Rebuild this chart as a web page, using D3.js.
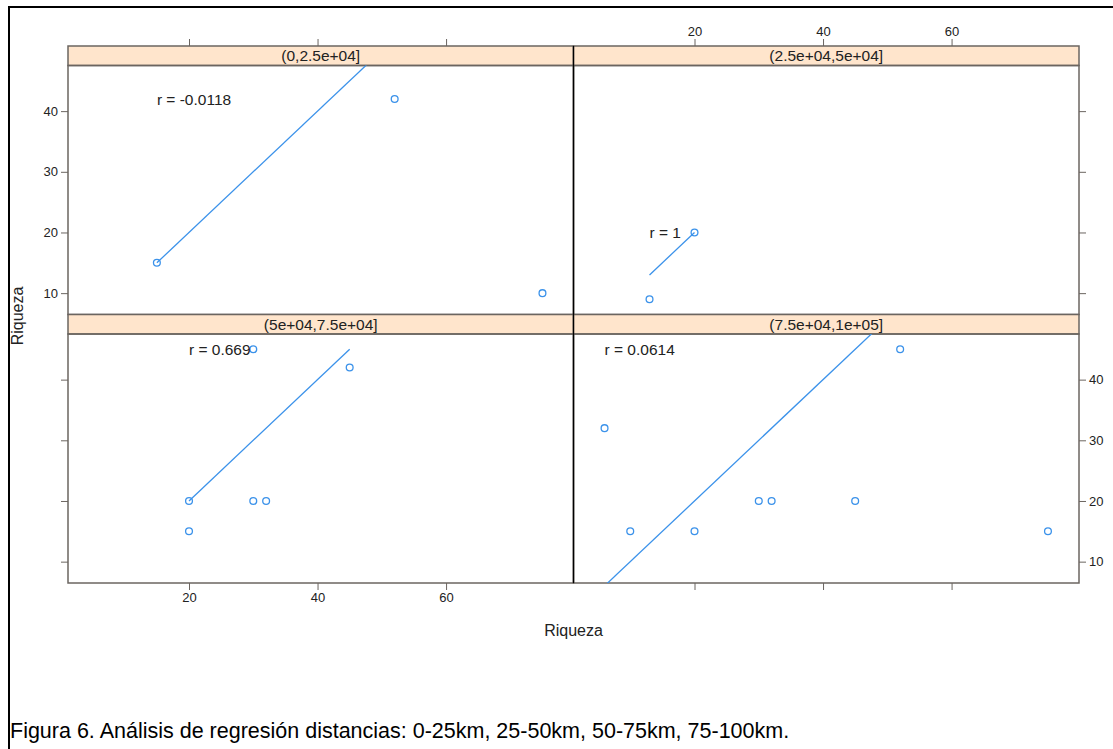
<!DOCTYPE html>
<html>
<head>
<meta charset="utf-8">
<script src="https://cdn.jsdelivr.net/npm/d3@7"></script>
<style>
  body { margin: 0; background: #fff; }
  svg { display: block; font-family: "Liberation Sans", Arial, sans-serif; }
  .tick line { stroke: #6b6560; }
  .tick text { fill: #222; font-size: 13px; }
</style>
</head>
<body>
<svg width="1113" height="749"></svg>
<script>
"use strict"

// strip labels and r values per panel
const panelLabels = ["(0,2.5e+04]", "(2.5e+04,5e+04]", "(5e+04,7.5e+04]", "(7.5e+04,1e+05]"]
const rValues = ["-0.0118", "1", "0.669", "0.0614"]

// points (Riqueza vs Riqueza)
const p1x = [15, 52, 75],  p1y = [15, 42, 10]
const p2x = [13, 20],      p2y = [9, 20]
const p3x = [20, 20, 30, 32, 45, 30], p3y = [20, 15, 20, 20, 42, 45]
const p4x = [6, 10, 20, 30, 32, 45, 52, 75], p4y = [32, 15, 15, 20, 20, 20, 45, 15]

const xTicks = [20, 40, 60]
const yTicks = [10, 20, 30, 40]

const caption = "Figura 6. Análisis de regresión distancias: 0-25km, 25-50km, 50-75km, 75-100km."

let svg = d3.select("svg")

const padL = 68, padR = 1079, padT = 46
const colW = (padR - padL) / 2
const stripH = 19.5, plotH = 249
const blue = "#3b92ea", border = "#6b6560"

let xs = [p1x, p2x, p3x, p4x], ys = [p1y, p2y, p3y, p4y]
let allX = d3.merge(xs), allY = d3.merge(ys)

// lattice style 7% padding
function padded(ext) {
  let d = (ext[1] - ext[0]) * 0.07
  return [ext[0] - d, ext[1] + d]
}

let xDom = padded(d3.extent(allX)), yDom = padded(d3.extent(allY))

// outer frame of the figure
svg.append("path")
  .attr("d", "M9,760V7H1120")
  .attr("fill", "none")
  .attr("stroke", "#000")
  .attr("stroke-width", 2)

let panels = panelLabels.map((lab, i) => {
  let col = i % 2, row = Math.floor(i / 2)
  let x0 = padL + col * colW
  let sy = padT + row * (stripH + plotH)
  return {lab, i, col, row, x0, sy, py: sy + stripH, px: xs[i], pyv: ys[i], r: rValues[i]}
})

panels.forEach(p => {
  let x = d3.scaleLinear().domain(xDom).range([p.x0, p.x0 + colW])
  let y = d3.scaleLinear().domain(yDom).range([p.py + plotH, p.py])
  let g = svg.append("g")

  g.append("clipPath").attr("id", "clip" + p.i)
    .append("rect")
      .attr("x", p.x0).attr("y", p.py)
      .attr("width", colW).attr("height", plotH)

  // strip
  g.append("rect")
    .attr("x", p.x0).attr("y", p.sy)
    .attr("width", colW).attr("height", stripH)
    .attr("fill", "#ffe5cc")
    .attr("stroke", border).attr("stroke-width", 1.5)
  g.append("text")
    .attr("x", p.x0 + colW / 2).attr("y", p.sy + stripH / 2)
    .attr("dy", "0.36em")
    .attr("text-anchor", "middle")
    .attr("font-size", 15.5).attr("fill", "#222")
    .text(p.lab)

  // panel box
  g.append("rect")
    .attr("x", p.x0).attr("y", p.py)
    .attr("width", colW).attr("height", plotH)
    .attr("fill", "none")
    .attr("stroke", border).attr("stroke-width", 1.5)

  // y = x line over the panel's x range
  let ex = d3.extent(p.px)
  g.append("path")
    .attr("clip-path", "url(#clip" + p.i + ")")
    .attr("d", d3.line().x(d => x(d)).y(d => y(d))(ex))
    .attr("fill", "none")
    .attr("stroke", blue).attr("stroke-width", 1.3)

  g.selectAll("circle.pt")
    .data(p.px.map((v, k) => [v, p.pyv[k]]))
    .enter().append("circle")
      .attr("class", "pt")
      .attr("cx", d => x(d[0]))
      .attr("cy", d => y(d[1]))
      .attr("r", 3.4)
      .attr("fill", "none")
      .attr("stroke", blue).attr("stroke-width", 1.3)

  g.append("text")
    .attr("x", x(ex[0])).attr("y", y(d3.max(p.pyv)))
    .attr("dy", "0.36em")
    .attr("font-size", 15.5).attr("fill", "#222")
    .text("r = " + p.r)

  // axes, lattice alternating style
  let tk = 7
  if (p.row === 0) {
    let ax = d3.axisTop(x).tickValues(xTicks).tickSize(tk).tickSizeOuter(0)
    if (p.col === 0) ax.tickFormat("")
    g.append("g").attr("transform", "translate(0," + p.sy + ")").call(ax)
  } else {
    let ax = d3.axisBottom(x).tickValues(xTicks).tickSize(tk).tickSizeOuter(0)
    if (p.col === 1) ax.tickFormat("")
    g.append("g").attr("transform", "translate(0," + (p.py + plotH) + ")").call(ax)
  }
  if (p.col === 0) {
    let ay = d3.axisLeft(y).tickValues(yTicks).tickSize(tk).tickSizeOuter(0)
    if (p.row === 1) ay.tickFormat("")
    g.append("g").attr("transform", "translate(" + p.x0 + ",0)").call(ay)
  } else {
    let ay = d3.axisRight(y).tickValues(yTicks).tickSize(tk).tickSizeOuter(0)
    if (p.row === 0) ay.tickFormat("")
    g.append("g").attr("transform", "translate(" + (p.x0 + colW) + ",0)").call(ay)
  }
})

svg.selectAll(".domain").remove()

// divider between the two columns
svg.append("line")
  .attr("x1", padL + colW).attr("x2", padL + colW)
  .attr("y1", padT).attr("y2", padT + 2 * (stripH + plotH))
  .attr("stroke", "#000").attr("stroke-width", 1.3)

// axis titles
svg.append("text")
  .attr("x", (padL + padR) / 2).attr("y", 630)
  .attr("dy", "0.36em")
  .attr("text-anchor", "middle")
  .attr("font-size", 16).attr("fill", "#222")
  .text("Riqueza")

svg.append("text")
  .attr("transform", "translate(17," + 316 + ") rotate(-90)")
  .attr("dy", "0.36em")
  .attr("text-anchor", "middle")
  .attr("font-size", 16).attr("fill", "#222")
  .text("Riqueza")

svg.append("text")
  .attr("x", 10).attr("y", 738)
  .attr("font-size", 21.5).attr("fill", "#000")
  .text(caption)
</script>
</body>
</html>
